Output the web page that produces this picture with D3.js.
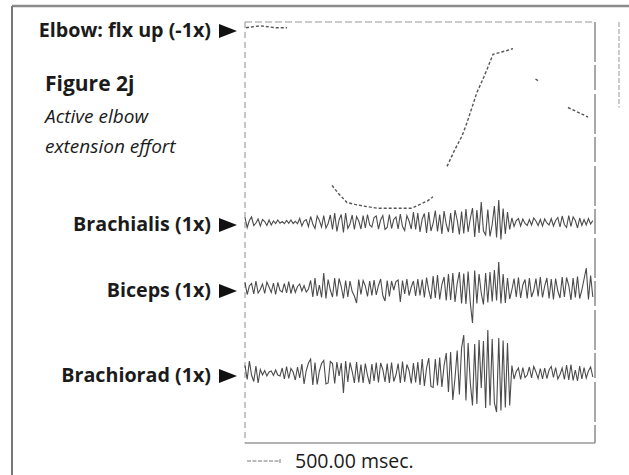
<!DOCTYPE html>
<html>
<head>
<meta charset="utf-8">
<script src="https://cdn.jsdelivr.net/npm/d3@7"></script>
<style>
  body { margin: 0; background: #fff; }
  text { font-family: "Open Sans", "Noto Sans", sans-serif; fill: #1b1b1b; }
</style>
</head>
<body>
<div id="chart"></div>
<script>
// Elbow angle trace (time in msec, angle in deg; null = pen off the chart)
const elbowTime = [14, 214, 429, 600, 700,
  1243, 1329, 1457, 1571, 1714, 1886, 2071, 2214, 2386, 2500, 2614, 2686, 2780,
  2886, 3000, 3100, 3171, 3243, 3314, 3400, 3457, 3500, 3543, 3643, 3743, 3829, 3950,
  4150, 4190, 4400,
  4614, 4786, 4900];
const elbowAngle = [117, 118, 117, 117, null,
  34, 30, 25, 24, 23, 22, 22, 22, 22, 24, 26, 28, null,
  44, 53, 60, 67, 75, 83, 90, 95, 99, 103, 104, 105, 106, null,
  90, 89, null,
  75, 72, 70];

// EMG channels, one sample every 31.25 msec (uV)
const sampleStep = 31.25;
const brachialis = [
  18,-22,6,20,-14,-4,12,-16,10,2,-14,8,-12,4,-6,8,-5,2,-7,6,
  -5,8,-6,3,-7,14,-16,4,10,-18,22,-8,-26,24,6,-20,26,-24,-6,28,
  -30,36,-38,8,30,-42,36,-26,-8,28,-30,22,4,-28,26,-24,30,-12,-20,18,
  24,-28,8,26,-30,-22,30,-26,10,20,-28,32,-18,-34,26,4,-28,40,-30,36,
  -40,12,34,-44,40,-36,-6,46,-38,30,-48,44,-10,-40,36,-44,48,8,-50,42,
  -46,52,-40,14,56,-60,48,-44,80,-36,-52,50,-58,-10,64,-62,88,-70,54,-48,
  40,-30,16,-18,6,14,-16,12,-6,-14,10,-12,16,4,-14,10,-16,12,-4,-12,
  14,-16,6,18,-20,24,-10,-22,26,-18,20,6,-24,16,-14,10,-12,14,-8,6
];
const biceps = [
  22,-26,8,18,-24,28,-20,-6,16,-22,24,4,-18,20,-26,22,-10,-16,18,-20,
  26,-22,14,-18,6,16,-12,10,-16,-4,30,-36,40,-32,12,-38,60,-42,34,-8,
  -36,40,-34,38,6,-42,30,-36,28,-14,-32,-60,34,-26,30,8,-34,28,-30,32,
  -28,10,36,-30,-52,30,-34,28,-8,26,32,-56,30,-24,36,-30,4,28,-32,36,
  -30,34,-38,42,-10,-44,48,-40,52,-46,14,44,-50,56,-48,60,-56,18,64,-62,
  58,-64,66,-60,-140,70,-62,56,-20,-66,60,-58,64,-54,72,-50,104,-62,56,-60,
  40,-44,-8,38,-36,42,-40,12,34,-42,40,-36,-10,38,-34,44,-38,8,40,-42,
  36,-46,38,-12,-40,44,-36,42,10,-48,40,-38,46,-42,-8,36,80,-46,50,-36
];
const brachiorad = [
  30,-26,48,-8,-34,28,-40,14,-8,10,-12,4,8,-10,12,-8,-12,20,-24,26,
  -22,18,4,-28,24,-20,36,-44,10,40,56,-48,42,-46,8,38,50,-44,-40,46,
  38,-42,44,-12,40,-80,48,-36,42,6,-40,44,-38,34,-40,38,-10,-44,36,-32,
  42,-38,40,14,-36,38,-40,42,-34,-8,38,-40,46,-36,34,10,-42,40,-38,44,
  -48,56,-52,20,60,-54,-58,56,-50,62,-56,30,80,-76,84,-108,-20,90,-86,100,
  152,-110,120,-40,-130,116,-124,132,-60,128,-140,172,-130,136,-120,-156,140,-150,130,-138,
  120,-130,30,-24,6,20,-26,22,-18,-8,24,-20,26,4,-22,18,-24,20,-22,12,
  26,-18,22,-24,-6,20,-26,32,-28,34,-30,12,-32,28,-24,22,-20,8,24,-16
];

const channelNames = ["Brachialis (1x)", "Biceps (1x)", "Brachiorad (1x)"];
const channelData = [brachialis, biceps, brachiorad];
const elbowLabel = "Elbow: flx up (-1x)";
const timeBar = 500;         // msec
const timeBarLabel = "500.00 msec.";
const angleBar = [120, 75];  // deg calibration

const width = 629;
const height = 475;

// Plot box
const marginLeft = 245;
const marginRight = 34;
const marginTop = 22;
const marginBottom = 32;

const svg = d3
  .select("#chart")
  .append("svg")
  .attr("width", width)
  .attr("height", height)
  .attr("viewBox", [0, 0, width, height]);

const x = d3
  .scaleLinear()
  .domain([0, 5000])
  .range([marginLeft, width - marginRight]);

const yElbow = d3.scaleLinear().domain([120, 20]).range([marginTop, 212]);

// vertical centre of each EMG channel
const channelBase = [222, 288, 373];
const yChannel = channelBase.map((b) =>
  d3.scaleLinear().domain([-200, 200]).range([b + 50, b - 50]),
);

// Outer frame (top and left edge only)
svg.append("line")
  .attr("x1", 12).attr("x2", width).attr("y1", 6).attr("y2", 6)
  .attr("stroke", "#8a8a8a").attr("stroke-width", 2.5);
svg.append("line")
  .attr("x1", 12).attr("x2", 12).attr("y1", 6).attr("y2", height)
  .attr("stroke", "#777").attr("stroke-width", 2);

// Plot box
const x0 = x.range()[0], x1 = x.range()[1];
const yTop = marginTop, yBot = height - marginBottom;
svg.append("line")
  .attr("x1", x0).attr("x2", x1).attr("y1", yTop).attr("y2", yTop)
  .attr("stroke", "#999").attr("stroke-dasharray", "7,3");
svg.append("line")
  .attr("x1", x0).attr("x2", x0).attr("y1", yTop).attr("y2", yBot)
  .attr("stroke", "#8c8c8c").attr("stroke-dasharray", "6,4");
svg.append("line")
  .attr("x1", x1).attr("x2", x1).attr("y1", yTop).attr("y2", yBot)
  .attr("stroke", "#8c8c8c").attr("stroke-width", 1.5).attr("stroke-dasharray", "40,3,25,4");
svg.append("line")
  .attr("x1", x0).attr("x2", x1).attr("y1", yBot).attr("y2", yBot)
  .attr("stroke", "#999").attr("stroke-width", 1.5);

// Angle calibration bar to the right
svg.append("line")
  .attr("x1", 619).attr("x2", 619)
  .attr("y1", yElbow(angleBar[0])).attr("y2", yElbow(angleBar[1]))
  .attr("stroke", "#999").attr("stroke-dasharray", "5,2");

// Elbow trace
const elbowPoints = elbowTime.map((t, i) => ({ t, v: elbowAngle[i] }));
svg.append("path")
  .datum(elbowPoints)
  .attr("fill", "none")
  .attr("stroke", "#555")
  .attr("stroke-width", 1.4)
  .attr("stroke-dasharray", "3,2")
  .attr("d", d3.line()
    .defined((d) => d.v !== null)
    .x((d) => x(d.t))
    .y((d) => yElbow(d.v)));

// EMG traces
channelData.forEach((data, c) => {
  svg.append("path")
    .datum(data)
    .attr("fill", "none")
    .attr("stroke", "#2b2b2b")
    .attr("stroke-opacity", 0.85)
    .attr("stroke-width", 1.1)
    .attr("d", d3.line()
      .x((d, i) => x(i * sampleStep))
      .y((d) => yChannel[c](d)));
});

// Labels with pointers
function addLabel(text, cy) {
  svg.append("text")
    .attr("x", 211)
    .attr("y", cy + 6)
    .attr("text-anchor", "end")
    .attr("font-size", "19.7px")
    .attr("font-weight", "bold")
    .text(text);
  svg.append("path")
    .attr("d", `M219,${cy - 7}L237,${cy}L219,${cy + 7}Z`)
    .attr("fill", "#111");
}
addLabel(elbowLabel, 31);
channelNames.forEach((name, c) => addLabel(name, channelBase[c] + 3));

// Figure title
svg.append("text")
  .attr("x", 45).attr("y", 91)
  .attr("font-size", "21px").attr("font-weight", "bold")
  .text("Figure 2j");
svg.append("text")
  .attr("x", 45).attr("y", 123)
  .attr("font-size", "19px").attr("font-style", "italic")
  .attr("fill", "#333")
  .text("Active elbow");
svg.append("text")
  .attr("x", 45).attr("y", 153)
  .attr("font-size", "19px").attr("font-style", "italic")
  .attr("fill", "#333")
  .text("extension effort");

// Time scale bar
const barY = 461;
svg.append("line")
  .attr("x1", x(0) + 2).attr("x2", x(timeBar)).attr("y1", barY).attr("y2", barY)
  .attr("stroke", "#777").attr("stroke-dasharray", "4,1.5");
svg.append("line")
  .attr("x1", x(timeBar)).attr("x2", x(timeBar)).attr("y1", barY - 2).attr("y2", barY + 2)
  .attr("stroke", "#777");
svg.append("text")
  .attr("x", 295).attr("y", 468)
  .attr("font-size", "19.5px")
  .text(timeBarLabel);
</script>
</body>
</html>
